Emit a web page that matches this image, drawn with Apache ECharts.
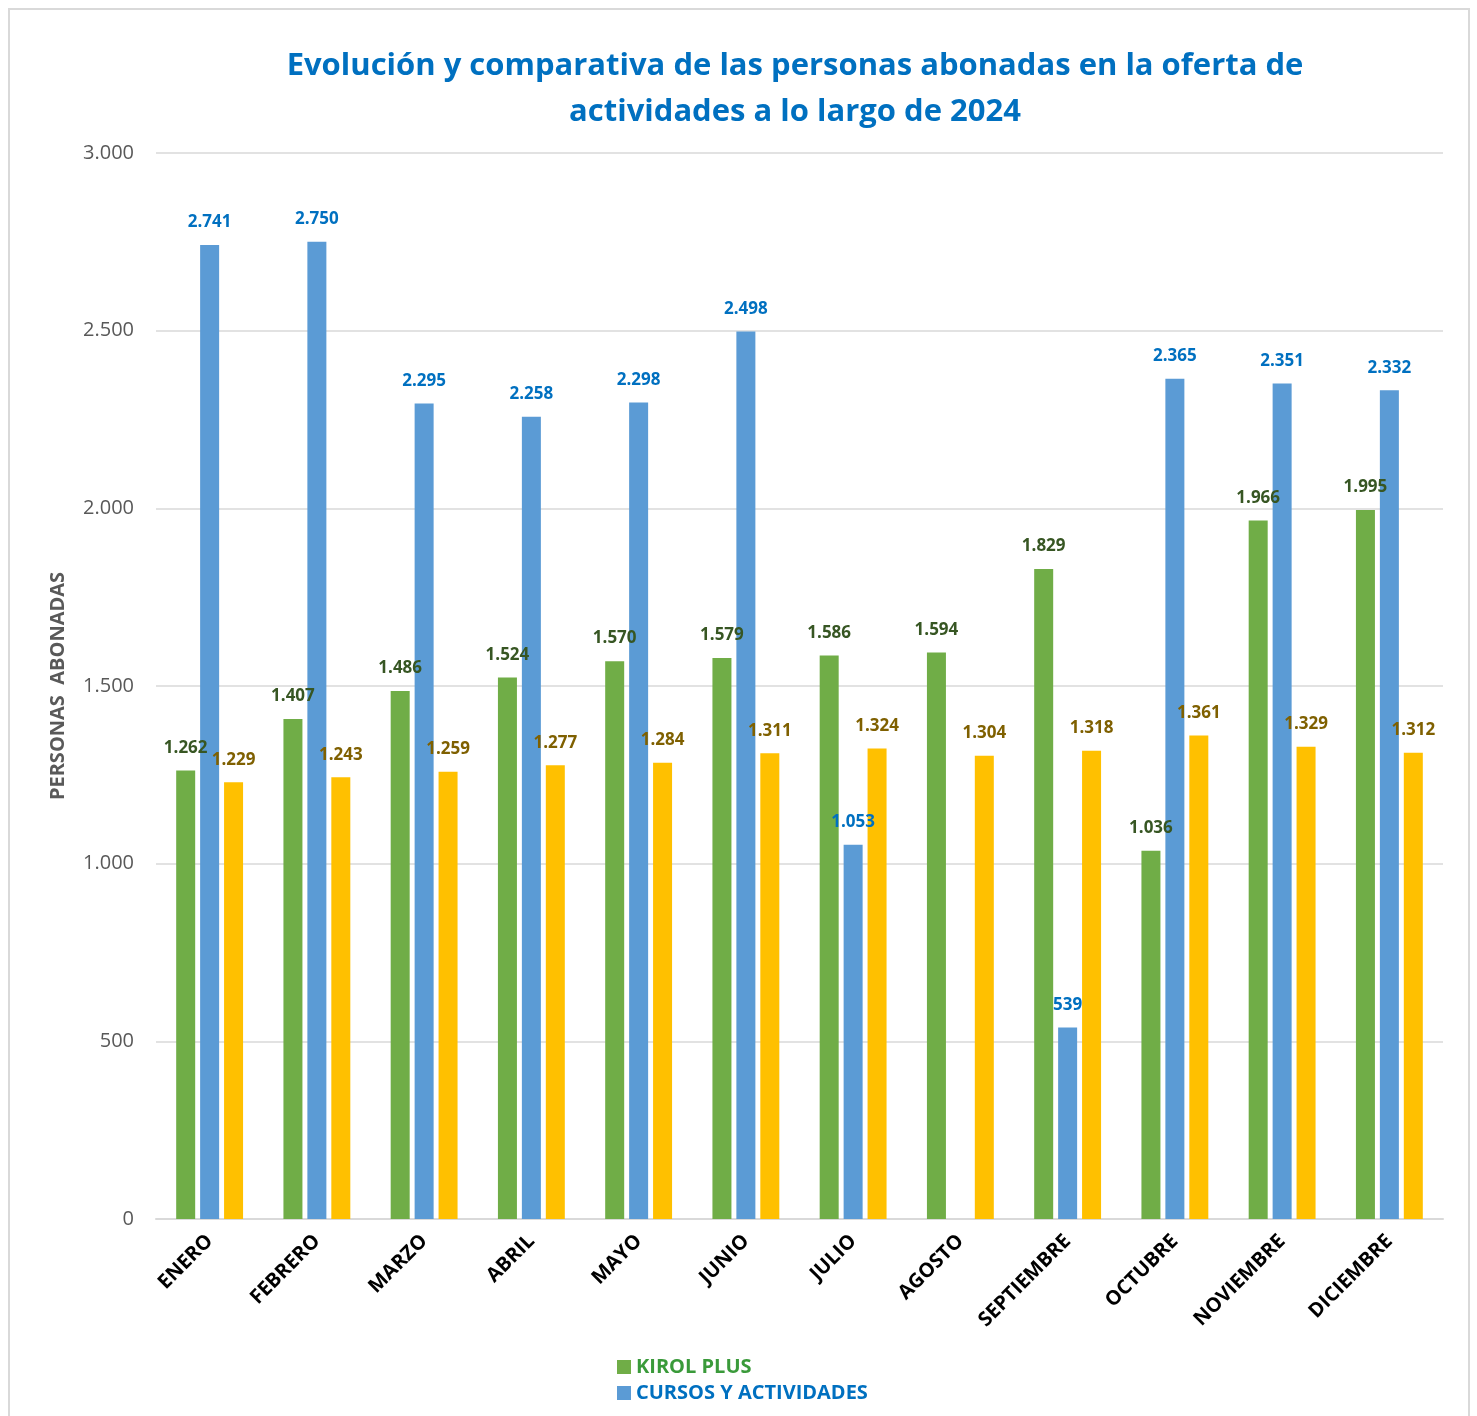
<!DOCTYPE html>
<html>
<head>
<meta charset="utf-8">
<script src="https://cdn.jsdelivr.net/npm/echarts@6/dist/echarts.min.js"></script>
<style>
  html, body { margin: 0; padding: 0; background: #fff; }
  #frame { position: absolute; left: 8px; top: 8px; width: 1462px; height: 1420px; border: 2px solid #d9d9d9; box-sizing: border-box; }
  #chart { position: absolute; left: 0; top: 0; width: 1477px; height: 1416px; }
</style>
</head>
<body>
<div id="frame"></div>
<div id="chart"></div>
<script>
// meses
var meses = ["ENERO", "FEBRERO", "MARZO", "ABRIL", "MAYO", "JUNIO", "JULIO", "AGOSTO", "SEPTIEMBRE", "OCTUBRE", "NOVIEMBRE", "DICIEMBRE"];
// abonados por serie
var kirolPlus = [1262, 1407, 1486, 1524, 1570, 1579, 1586, 1594, 1829, 1036, 1966, 1995];
var cursos = [2741, 2750, 2295, 2258, 2298, 2498, 1053, null, 539, 2365, 2351, 2332];
var terceraSerie = [1229, 1243, 1259, 1277, 1284, 1311, 1324, 1304, 1318, 1361, 1329, 1312];
var ejeTicks = [0, 500, 1000, 1500, 2000, 2500, 3000];

var fuente = "'Open Sans', 'Noto Sans', sans-serif";

function miles(v) {
  return String(v).replace(/\B(?=(\d{3})+(?!\d))/g, ".");
}

function etiqueta(color) {
  return {
    show: true,
    position: "top",
    distance: 14,
    color: color,
    fontFamily: fuente,
    fontWeight: "bold",
    fontSize: 17,
    formatter: function (p) { return miles(p.value); }
  };
}

var chart = echarts.init(document.getElementById("chart"));
chart.setOption({
  animation: false,
  title: {
    text: "Evolución y comparativa de las personas abonadas en la oferta de\nactividades a lo largo de 2024",
    left: 790,
    top: 38,
    textAlign: "center",
    textStyle: {
      color: "#0070C0",
      fontFamily: fuente,
      fontWeight: "bold",
      fontSize: 31,
      lineHeight: 46
    }
  },
  legend: {
    orient: "vertical",
    left: 612,
    top: 1352,
    itemWidth: 14,
    itemHeight: 14,
    itemGap: 6,
    icon: "rect",
    data: [
      { name: "KIROL PLUS", textStyle: { color: "#3A9A3A" } },
      { name: "CURSOS Y ACTIVIDADES", textStyle: { color: "#0070C0" } }
    ],
    textStyle: { fontFamily: fuente, fontWeight: "bold", fontSize: 20 }
  },
  grid: { left: 156, right: 34, top: 153, bottom: 197 },
  xAxis: {
    type: "category",
    data: meses,
    axisTick: { show: false },
    axisLine: { lineStyle: { color: "#d9d9d9", width: 2 } },
    axisLabel: {
      rotate: 45,
      interval: 0,
      margin: 19,
      color: "#000",
      fontFamily: fuente,
      fontWeight: "bold",
      fontSize: 20
    }
  },
  yAxis: {
    type: "value",
    min: 0,
    max: 3000,
    interval: 500,
    name: "PERSONAS  ABONADAS",
    nameLocation: "middle",
    nameGap: 88,
    nameTextStyle: { color: "#595959", fontFamily: fuente, fontWeight: "bold", fontSize: 20 },
    axisLabel: {
      color: "#595959",
      fontFamily: fuente,
      fontSize: 20,
      margin: 22,
      formatter: function (v) { return ejeTicks.indexOf(v) >= 0 ? miles(v) : ""; }
    },
    splitLine: { lineStyle: { color: "#d9d9d9", width: 1.5 } }
  },
  series: [
    {
      name: "KIROL PLUS",
      type: "bar",
      data: kirolPlus,
      barWidth: 19,
      barGap: "26%",
      itemStyle: { color: "#70AD47" },
      label: etiqueta("#375623")
    },
    {
      name: "CURSOS Y ACTIVIDADES",
      type: "bar",
      data: cursos,
      barWidth: 19,
      barGap: "26%",
      itemStyle: { color: "#5B9BD5" },
      label: etiqueta("#0070C0")
    },
    {
      name: "OTRAS",
      type: "bar",
      data: terceraSerie,
      barWidth: 19,
      barGap: "26%",
      itemStyle: { color: "#FFC000" },
      label: etiqueta("#7F6000")
    }
  ]
});
</script>
</body>
</html>
